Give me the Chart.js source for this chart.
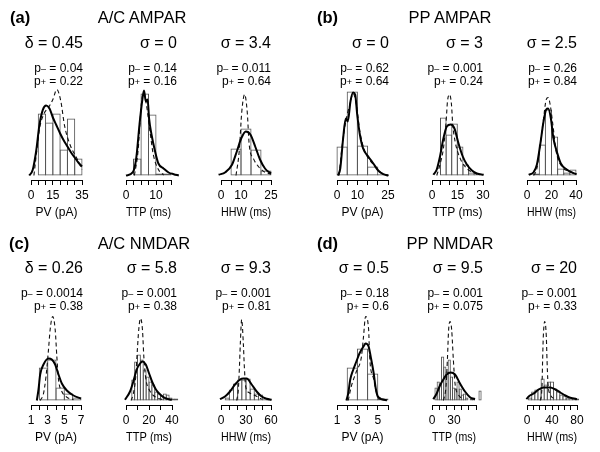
<!DOCTYPE html>
<html>
<head>
<meta charset="utf-8">
<script src="https://cdn.jsdelivr.net/npm/chart.js@4/dist/chart.umd.min.js"></script>
<style>
  html, body { margin: 0; padding: 0; background: #fff; width: 600px; height: 452px; overflow: hidden; }
  body { position: relative; font-family: "Liberation Sans", Arial, Helvetica, sans-serif; color: #000; }
  .t { position: absolute; white-space: nowrap; filter: grayscale(1); }
  .s { font-size: 9px; }
  canvas { position: absolute; }
</style>
</head>
<body>
<script>
// ---------------- Text ----------------
const panelLetters = ['(a)', '(b)', '(c)', '(d)'];
const panelTitles = ['A/C AMPAR', 'PP AMPAR', 'A/C NMDAR', 'PP NMDAR'];
const spreadLabels = ['δ = 0.45', 'σ = 0', 'σ = 3.4', 'σ = 0', 'σ = 3', 'σ = 2.5',
                      'δ = 0.26', 'σ = 5.8', 'σ = 9.3', 'σ = 0.5', 'σ = 9.5', 'σ = 20'];
const pMinus = ['0.04', '0.14', '0.011', '0.62', '0.001', '0.26', '0.0014', '0.001', '0.001', '0.18', '0.001', '0.001'];
const pPlus  = ['0.22', '0.16', '0.64', '0.64', '0.24', '0.84', '0.38', '0.38', '0.81', '0.6', '0.075', '0.33'];
const axisTitles = ['PV (pA)', 'TTP (ms)', 'HHW (ms)'];

// ---------------- Data ----------------
// (a) A/C AMPAR
const aPV_ticks = [0, 5, 10, 15, 20, 25, 30, 35];
const aPV_labels = [0, 15, 35];
const aPV_edges = [5, 10, 15, 20, 25, 30, 35];
const aPV_hist = [62, 53, 62, 26, 57, 17];
const aPV_solidX = [-1.2, 1.2, 3.5, 5.8, 8.1, 10.4, 12.7, 15, 17.5, 20, 22.5, 25, 27.5, 30, 32.5, 35];
const aPV_solidY = [0, 5.7, 24, 50.7, 65.7, 70, 67, 58, 50, 42, 35, 29, 23, 18, 13, 9];
const aPV_dashX = [2, 4, 6, 9, 12, 15, 17.7, 20.5, 23, 27, 31.5, 35];
const aPV_dashY = [0, 25, 48, 62, 68, 76, 86, 74, 50, 30, 17, 6];

const aTTP_ticks = [0, 2.5, 5, 7.5, 10, 12.5, 15];
const aTTP_labels = [0, 10];
const aTTP_edges = [2.5, 5, 7.5, 10, 12.5, 15];
const aTTP_hist = [17, 82, 61, 2, 2];
const aTTP_solidX = [0, 2.3, 3.4, 4.5, 5.5, 6.0, 6.6, 7.2, 7.7, 8.5, 9.7, 10.8, 12.5, 14.2, 15.9, 17.6];
const aTTP_solidY = [0, 3.3, 17, 51, 77, 85, 74, 76, 57, 41, 24, 12, 7, 3, 1.3, 0];
const aTTP_dashX = [2.8, 4, 5.1, 5.9, 6.8, 8, 9.1, 10.8, 12.5];
const aTTP_dashY = [0, 24, 71, 83, 71, 44, 21, 6, 0.7];

const aHHW_ticks = [0, 5, 10, 15, 20, 25];
const aHHW_labels = [0, 10, 25];
const aHHW_edges = [5, 10, 15, 20, 25];
const aHHW_hist = [27, 47, 26, 5];
const aHHW_solidX = [-1.2, 2.2, 5.5, 7.9, 10.1, 12.4, 14.7, 17.1, 19.5, 22, 25];
const aHHW_solidY = [0.7, 3.3, 10.7, 24, 37, 44, 41, 29, 16, 7, 2];
const aHHW_dashX = [7.5, 9.1, 10.4, 11.8, 13.1, 14.1, 16.2, 18.7, 22, 25];
const aHHW_dashY = [0, 24, 64, 81, 64, 31, 17, 9, 3.3, 1.3];

// (b) PP AMPAR
const bPV_ticks = [0, 5, 10, 15, 20, 25];
const bPV_labels = [0, 10, 25];
const bPV_edges = [0, 5, 10, 15, 20, 25];
const bPV_hist = [29, 84, 30, 9, 1.3];
const bPV_solidX = [0.5, 1.6, 3, 4.3, 5.3, 6.6, 7.9, 8.9, 9.9, 11.2, 12.8, 15.3, 17.8, 20.2, 22.7, 25.2];
const bPV_solidY = [0, 7, 37, 57, 54, 74, 83, 81, 61, 41, 27, 19, 12, 5, 1.3, 0];
const bPV_dashX = [1, 2.6, 4.3, 6.3, 7.9, 9.5, 11.2, 13.7, 17.8, 21.9, 25.2];
const bPV_dashY = [0, 31, 54, 71, 82, 71, 44, 24, 11, 2.3, 0];

const bTTP_ticks = [0, 5, 10, 15, 20, 25, 30];
const bTTP_labels = [0, 15, 30];
const bTTP_edges = [5, 8.3, 11.6, 14.9, 18.2, 21.5, 24.8, 28.1];
const bTTP_hist = [58, 41, 52, 29, 11, 3, 1.3];
const bTTP_solidX = [0.8, 2.8, 4.7, 6.7, 8.7, 11, 13.2, 15.6, 18.1, 20.5, 23.5, 26.4, 30.4];
const bTTP_solidY = [0.7, 6, 19, 37, 49, 51, 47, 32, 19, 11, 5, 2, 0.7];
const bTTP_dashX = [2.8, 4.7, 6.7, 8.3, 9.1, 10.3, 11.4, 12.2, 13.6, 16.6, 20.5, 26.4];
const bTTP_dashY = [0, 11, 27, 54, 74, 81, 72, 51, 34, 17, 7, 1.3];

const bHHW_ticks = [0, 10, 20, 30, 40];
const bHHW_labels = [0, 20, 40];
const bHHW_edges = [5, 10, 15, 20, 25, 30, 35, 40];
const bHHW_hist = [2, 31, 66, 39, 7, 3, 6];
const bHHW_solidX = [1.4, 5.4, 8.1, 10.8, 13.5, 15.7, 17.3, 19.5, 21.6, 24.3, 27.6, 32.4, 37.8, 40.5];
const bHHW_solidY = [0.7, 3.3, 11, 31, 54, 66, 67, 57, 37, 24, 12, 6, 2.3, 1.3];
const bHHW_dashX = [5.4, 8.1, 10.8, 13.5, 15.7, 17.3, 18.9, 21.1, 23.8, 28.4, 35.1, 40.5];
const bHHW_dashY = [0, 7, 31, 57, 76, 78, 71, 51, 24, 9, 4, 2];

// (c) A/C NMDAR
const cPV_ticks = [1, 2, 3, 4, 5, 6, 7];
const cPV_labels = [1, 3, 5, 7];
const cPV_edges = [2, 3, 4, 5, 6, 7];
const cPV_hist = [33, 41, 13, 7, 3];
const cPV_solidX = [1.7, 1.9, 2.1, 2.5, 3.1, 3.5, 3.9, 4.3, 4.7, 5.3, 6.1, 7];
const cPV_solidY = [0, 11, 26, 36, 42, 41, 36, 26, 17, 10, 5, 2];
const cPV_dashX = [2.1, 2.5, 2.8, 3.1, 3.3, 3.6, 3.9, 4.1, 4.3, 4.7, 5.3, 6.1];
const cPV_dashY = [0, 7, 24, 51, 71, 84, 71, 44, 21, 9, 3.3, 0.7];

const cTTP_ticks = [0, 10, 20, 30, 40];
const cTTP_labels = [0, 20, 40];
const cTTP_edges = [5, 7.5, 10, 12.5, 15, 17.5, 20, 22.5, 25, 27.5, 30, 32.5, 35, 37.5, 40, 42.5, 45];
const cTTP_hist = [21, 39, 46, 41, 31, 24, 19, 16, 9, 7, 5, 7, 6, 3, 2, 2];
const cTTP_solidX = [-0.9, 3.5, 6.4, 9.3, 12.2, 14.3, 17.2, 20.1, 23, 26, 29.7, 34.1, 39.9];
const cTTP_solidY = [0.7, 9, 19, 31, 37, 39, 36, 27, 18, 11, 6, 2.3, 0.7];
const cTTP_dashX = [4.4, 6.4, 8.5, 9.9, 11.1, 12.5, 14.3, 15.5, 17.2, 20.1, 23.9, 28.3, 34.1];
const cTTP_dashY = [0, 7, 24, 51, 71, 82, 71, 44, 22, 11, 5, 2, 0.7];

const cHHW_ticks = [0, 10, 20, 30, 40, 50, 60];
const cHHW_labels = [0, 30, 60];
const cHHW_edges = [5, 10, 15, 20, 25, 30, 35, 40, 45, 50, 55, 60];
const cHHW_hist = [3, 11, 17, 21, 21, 22, 12, 7, 6, 1.3, 1.3];
const cHHW_solidX = [-1.2, 4.8, 10.8, 16.8, 22.8, 26.8, 30.8, 36.8, 42.8, 48.8, 54.8, 60.8];
const cHHW_solidY = [1.3, 4, 9, 16, 21, 22, 22, 16, 9, 4, 1.7, 0.7];
const cHHW_dashX = [18.8, 20.8, 22, 23.2, 24.8, 26.8, 28, 29.6, 33.6, 40.8, 48.8];
const cHHW_dashY = [0, 11, 31, 57, 81, 57, 34, 14, 8, 5, 1.3];

// (d) PP NMDAR
const dPV_ticks = [1, 2, 3, 4, 5, 6];
const dPV_labels = [1, 3, 5];
const dPV_edges = [2, 3, 4, 5, 6];
const dPV_hist = [33, 52, 27, 2];
const dPV_solidX = [1.92, 2.1, 2.3, 2.6, 2.9, 3.2, 3.6, 3.8, 4.1, 4.3, 4.6, 4.8, 5.0, 5.4, 5.9];
const dPV_solidY = [0, 7, 21, 31, 39, 47, 54, 57, 54, 44, 27, 12, 4, 1.3, 0.3];
const dPV_dashX = [2.1, 2.4, 2.9, 3.4, 3.6, 3.8, 4.1, 4.2, 4.6, 4.9, 5.4];
const dPV_dashY = [0, 14, 29, 44, 64, 84, 71, 44, 21, 7, 1.3];

const dTTP_ticks = [0, 10, 20, 30, 40, 50, 60];
const dTTP_labels = [0, 30];
const dTTP_edges = [4, 7, 10, 13, 16, 19, 22, 25, 28, 31, 34, 37, 40, 43, 46, 49, 52, 55, 58, 61, 64, 67];
const dTTP_hist = [13, 19, 17, 44, 34, 29, 41, 24, 13, 12, 19, 12, 6, 7, 3, 0, 2, 3, 0, 0, 10];
const dTTP_solidX = [1.8, 6.4, 10.9, 15.5, 20, 25.5, 31.4, 38.2, 45, 51.8, 58.6];
const dTTP_solidY = [1.3, 7, 15, 21, 26, 28, 26, 17, 9, 3.3, 1.3];
const dTTP_dashX = [15.5, 19.1, 21, 22.7, 24.5, 26.8, 29.1, 31.4, 35.9, 42.7];
const dTTP_dashY = [0, 14, 41, 71, 79, 71, 41, 17, 6, 1.3];

const dHHW_ticks = [0, 10, 20, 30, 40, 50, 60, 70, 80];
const dHHW_labels = [0, 40, 80];
const dHHW_edges = [2.5, 7.5, 12.5, 17.5, 22.5, 27.5, 32.5, 37.5, 42.5, 47.5, 52.5, 57.5, 62.5, 67.5, 72.5, 77.5, 82.5];
const dHHW_hist = [3, 9, 11, 12, 22, 16, 19, 19, 12, 9, 6, 5, 3, 1.3, 3, 2];
const dHHW_solidX = [-1, 2.7, 10.7, 18.7, 26.7, 37.3, 45.3, 53.3, 61.3, 69.3, 80];
const dHHW_solidY = [1.3, 4, 7, 11, 13, 13, 11, 8, 5, 2.7, 1.3];
const dHHW_dashX = [21.3, 24, 25, 26.1, 28.3, 30.9, 32, 33.6, 37.3, 45.3];
const dHHW_dashY = [0, 14, 41, 64, 79, 64, 41, 17, 6, 1.3];

// ---------------- Assemble ----------------
const panels = [
  [aPV_ticks, aPV_labels, aPV_edges, aPV_hist, aPV_solidX, aPV_solidY, aPV_dashX, aPV_dashY],
  [aTTP_ticks, aTTP_labels, aTTP_edges, aTTP_hist, aTTP_solidX, aTTP_solidY, aTTP_dashX, aTTP_dashY],
  [aHHW_ticks, aHHW_labels, aHHW_edges, aHHW_hist, aHHW_solidX, aHHW_solidY, aHHW_dashX, aHHW_dashY],
  [bPV_ticks, bPV_labels, bPV_edges, bPV_hist, bPV_solidX, bPV_solidY, bPV_dashX, bPV_dashY],
  [bTTP_ticks, bTTP_labels, bTTP_edges, bTTP_hist, bTTP_solidX, bTTP_solidY, bTTP_dashX, bTTP_dashY],
  [bHHW_ticks, bHHW_labels, bHHW_edges, bHHW_hist, bHHW_solidX, bHHW_solidY, bHHW_dashX, bHHW_dashY],
  [cPV_ticks, cPV_labels, cPV_edges, cPV_hist, cPV_solidX, cPV_solidY, cPV_dashX, cPV_dashY],
  [cTTP_ticks, cTTP_labels, cTTP_edges, cTTP_hist, cTTP_solidX, cTTP_solidY, cTTP_dashX, cTTP_dashY],
  [cHHW_ticks, cHHW_labels, cHHW_edges, cHHW_hist, cHHW_solidX, cHHW_solidY, cHHW_dashX, cHHW_dashY],
  [dPV_ticks, dPV_labels, dPV_edges, dPV_hist, dPV_solidX, dPV_solidY, dPV_dashX, dPV_dashY],
  [dTTP_ticks, dTTP_labels, dTTP_edges, dTTP_hist, dTTP_solidX, dTTP_solidY, dTTP_dashX, dTTP_dashY],
  [dHHW_ticks, dHHW_labels, dHHW_edges, dHHW_hist, dHHW_solidX, dHHW_solidY, dHHW_dashX, dHHW_dashY]
];

// layout (pixels): axis start x, axis length, plot top
const layout = [
  {x0: 31, len: 51, top: 85}, {x0: 126, len: 45, top: 85}, {x0: 221, len: 50, top: 85},
  {x0: 337, len: 51, top: 85}, {x0: 432, len: 51, top: 85}, {x0: 527, len: 49, top: 85},
  {x0: 31, len: 50, top: 310}, {x0: 126, len: 46, top: 310}, {x0: 221, len: 50, top: 310},
  {x0: 337, len: 51, top: 310}, {x0: 432, len: 44, top: 310}, {x0: 527, len: 50, top: 310}
];
const textRight = [83, 177, 271, 389, 483, 577];
const FONT = '"Liberation Sans", Arial, Helvetica, sans-serif';

function addText(html, x, y, size, align, bold) {
  const d = document.createElement('div');
  d.className = 't';
  const lh = Math.round(size * 1.25);
  d.style.fontSize = size + 'px';
  d.style.lineHeight = lh + 'px';
  d.style.top = (y - lh / 2) + 'px';
  if (bold) d.style.fontWeight = 'bold';
  if (align === 'right') { d.style.left = (x - 200) + 'px'; d.style.width = '200px'; d.style.textAlign = 'right'; }
  else if (align === 'center') { d.style.left = (x - 150) + 'px'; d.style.width = '300px'; d.style.textAlign = 'center'; }
  else { d.style.left = x + 'px'; }
  d.innerHTML = html;
  document.body.appendChild(d);
}

const letterPos = [[10, 17], [317, 17], [9, 243], [317, 243]];
const titlePos = [[142, 17], [450, 17], [144, 243], [450, 243]];
for (let g = 0; g < 4; g++) {
  addText(panelLetters[g], letterPos[g][0], letterPos[g][1], 16.5, 'left', true);
  addText(panelTitles[g], titlePos[g][0], titlePos[g][1], 16.5, 'center', false);
}
for (let i = 0; i < 12; i++) {
  const row = i < 6 ? 0 : 1;
  const xr = textRight[i % 6];
  const yS = row === 0 ? 43 : 268;
  const yP = row === 0 ? 68 : 293;
  addText(spreadLabels[i], xr, yS, 16, 'right', false);
  addText('p<span class="s">\u2013</span> = ' + pMinus[i], xr, yP, 12, 'right', false);
  addText('p<span class="s">+</span> = ' + pPlus[i], xr, yP + 13, 12, 'right', false);
}

Chart.defaults.font.family = FONT;
Chart.defaults.color = '#000';

const PAD = 12, PT = 5, CH = 95, AXH = 40;
panels.forEach((p, i) => {
  const [ticks, labels, edges, hist, sX, sY, dX, dY] = p;
  const L = layout[i];
  const c = document.createElement('canvas');
  c.width = L.len + 2 * PAD;
  c.height = PT + CH + AXH;
  c.style.left = (L.x0 - PAD) + 'px';
  c.style.top = (L.top - PT) + 'px';
  document.body.appendChild(c);
  const tMin = ticks[0], tMax = ticks[ticks.length - 1];
  const binPx = L.len * (edges[1] - edges[0]) / (tMax - tMin);
  const bars = hist.map((h, k) => ({x: (edges[k] + edges[k + 1]) / 2, y: h}));
  new Chart(c, {
    type: 'bar',
    data: {
      datasets: [
        {type: 'line', data: sX.map((x, k) => ({x: x, y: sY[k]})), borderColor: '#000', borderWidth: 2,
         pointRadius: 0, cubicInterpolationMode: 'monotone', clip: false, order: 0},
        {type: 'line', data: dX.map((x, k) => ({x: x, y: dY[k]})), borderColor: '#111', borderWidth: 1.1,
         borderDash: [4, 3], pointRadius: 0, cubicInterpolationMode: 'monotone', clip: false, order: 1},
        {type: 'bar', data: bars, backgroundColor: 'rgba(0,0,0,0)', borderColor: '#555',
         borderWidth: {left: 1, right: 1, top: 1, bottom: 1}, borderSkipped: false, inflateAmount: 0,
         barPercentage: (binPx + 1) / binPx, categoryPercentage: 1, grouped: false, clip: false, order: 2}
      ]
    },
    options: {
      responsive: false, animation: false, events: [],
      layout: {padding: {left: PAD, right: PAD, top: PT, bottom: 0}},
      plugins: {legend: {display: false}, tooltip: {enabled: false}},
      scales: {
        x: {
          type: 'linear', bounds: 'data', offset: false,
          afterDataLimits: s => { s.min = tMin; s.max = tMax; },
          afterBuildTicks: s => { s.ticks = ticks.map(v => ({value: v})); },
          afterFit: s => { s.height = AXH; },
          ticks: {autoSkip: false, maxRotation: 0, minRotation: 0, padding: 3, color: '#000',
                  font: {size: 12}, callback: v => labels.includes(v) ? String(v) : ''},
          grid: {drawOnChartArea: false, drawTicks: true, tickLength: 5, offset: false,
                 color: '#000', tickColor: '#000', lineWidth: 1},
          border: {display: true, color: '#000', width: 1},
          title: {display: true, text: axisTitles[i % 3], color: '#000', font: {size: 12}, padding: 0}
        },
        y: {display: false, min: -4.5, max: 90.5}
      }
    }
  });
});
</script>
</body>
</html>
